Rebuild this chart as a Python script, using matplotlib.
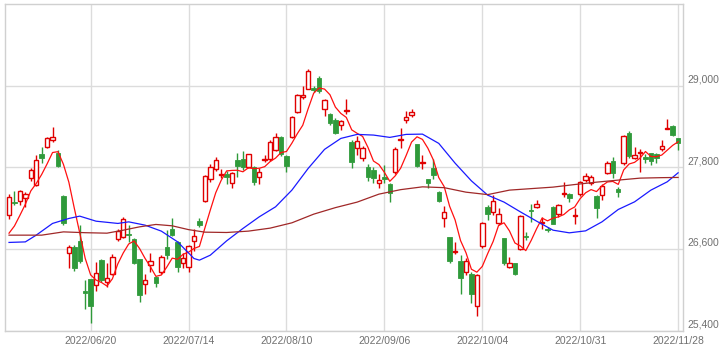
import numpy as np
import pandas as pd
import matplotlib.pyplot as plt
from matplotlib.patches import Rectangle
from matplotlib.transforms import blended_transform_factory

# DATA ########################################################################

holidays = ['2022-07-18', '2022-08-11', '2022-09-19', '2022-09-23',
            '2022-10-10', '2022-11-03', '2022-11-23']
dates = pd.bdate_range('2022-05-30', '2022-11-28', freq='C', holidays=holidays)

opens = [27100, 27300, 27306, 27350, 27650, 27546, 27992, 28104, 28198, 28007,
         27380, 26547, 26635, 26718, 25990, 26156, 26068, 26437, 26121, 26231,
         26744, 26782, 26830, 26748, 26454, 26083, 26376, 26195, 26267, 26626,
         26895, 26708, 26405, 26337, 26728, 27013, 27306, 27625, 27772, 27690,
         27698, 27575, 27909, 27919, 27810, 27810, 27663, 27910, 27919, 28056,
         28242, 27967, 28251, 28618, 28830, 28956, 28962, 29109, 28653, 28584,
         28496, 28418, 28630, 28168, 28089, 27933, 27806, 27757, 27566, 27659,
         27552, 27728, 28200, 28492, 28570, 28139, 27860, 27625, 27786, 27443,
         27056, 26773, 26560, 26425, 26267, 26234, 25768, 26651, 27214, 27140,
         26979, 26763, 26341, 26391, 26597, 26790, 27170, 27223, 26979, 26900,
         27223, 27111, 27405, 27409, 27095, 27405, 27610, 27571, 27380, 27390,
         27713, 27894, 27480, 27860, 28301, 27942, 28020, 27960, 28007, 27997,
         28066, 28370, 28408, 28227]
highs = [27410, 27458, 27470, 27440, 27790, 27982, 28095, 28250, 28389, 28050,
         27400, 26660, 26660, 26954, 26150, 26170, 26420, 26460, 26400, 26530,
         26900, 27070, 26950, 26760, 26460, 26230, 26540, 26200, 26520, 26880,
         27060, 26720, 26550, 26660, 26900, 27060, 27690, 27850, 27960, 27780,
         27750, 27730, 28020, 28040, 28000, 27820, 27790, 27990, 28200, 28300,
         28260, 27990, 28560, 28880, 28990, 29240, 29000, 29150, 28810, 28600,
         28520, 28500, 28800, 28200, 28260, 28110, 27850, 27800, 27700, 27840,
         27570, 28100, 28380, 28630, 28660, 28140, 27980, 27630, 27920, 27460,
         27230, 26780, 26700, 26510, 26470, 26260, 26230, 27000, 27250, 27400,
         27200, 26770, 26480, 26400, 27100, 26850, 27260, 27330, 27080, 26920,
         27230, 27260, 27580, 27420, 27210, 27600, 27720, 27690, 27390, 27560,
         27900, 27950, 27510, 28280, 28330, 28100, 28066, 28000, 28020, 28010,
         28200, 28506, 28420, 28240]
lows = [27050, 27245, 27250, 27222, 27600, 27530, 27860, 28080, 28170, 27800,
        26960, 26320, 26280, 26400, 25720, 25520, 25990, 26120, 26047, 26220,
        26720, 26760, 26700, 26380, 25830, 25950, 26270, 26040, 26240, 26450,
        26800, 26268, 26330, 26270, 26570, 26930, 27290, 27580, 27750, 27650,
        27560, 27500, 27663, 27760, 27790, 27541, 27560, 27880, 27900, 28040,
        27970, 27728, 28240, 28600, 28800, 28950, 28910, 28900, 28550, 28420,
        28290, 28350, 28590, 27786, 27982, 27900, 27600, 27570, 27500, 27566,
        27290, 27700, 28080, 28447, 28540, 27800, 27776, 27500, 27625, 27300,
        26928, 26400, 26523, 25936, 26219, 25810, 25620, 26620, 27027, 27100,
        26950, 26370, 26320, 26220, 26590, 26730, 27000, 27200, 26900, 26850,
        26970, 27080, 27370, 27300, 26970, 27380, 27580, 27540, 27060, 27330,
        27700, 27650, 27370, 27840, 27940, 27920, 27737, 27860, 27840, 27870,
        28040, 28360, 28260, 28050]
closes = [27369, 27279, 27457, 27413, 27761, 27915, 27943, 28234, 28246, 27824,
          26987, 26629, 26326, 26431, 25963, 25771, 26246, 26149, 26171, 26491,
          26871, 27049, 26804, 26393, 25935, 26153, 26423, 26107, 26490, 26517,
          26812, 26336, 26478, 26643, 26788, 26961, 27680, 27803, 27914, 27699,
          27655, 27715, 27815, 27801, 27993, 27594, 27741, 27932, 28175, 28249,
          27999, 27819, 28546, 28871, 28868, 29222, 28942, 28930, 28794, 28452,
          28313, 28479, 28641, 27878, 28195, 28091, 27661, 27650, 27619, 27626,
          27430, 28065, 28214, 28542, 28614, 27818, 27875, 27567, 27688, 27313,
          27153, 26431, 26571, 26173, 26422, 25937, 26215, 26992, 27120, 27311,
          27116, 26401, 26396, 26237, 27090, 26775, 27156, 27257, 27006, 26890,
          26974, 27250, 27431, 27345, 27105, 27587, 27678, 27663, 27199, 27527,
          27872, 27716, 27446, 28263, 27963, 27990, 28028, 27930, 27899, 27944,
          28115, 28383, 28283, 28162]

# closes of the four sessions before the window (for the 5-day average)
prior_closes = [26748, 26677, 26604, 26781]

# 25-day and 75-day averages at these sessions
ma25_days = [0, 3, 5, 8, 11, 13, 16, 20, 22, 25, 28, 31, 34, 35, 37, 40, 43, 46,
             49, 52, 55, 58, 61, 64, 67, 70, 73, 76, 79, 82, 85, 88, 91, 94, 97,
             100, 103, 106, 109, 112, 115, 118, 121, 123]
ma25_vals = [26700, 26708, 26807, 26979, 27052, 27086, 27012, 26979, 27002, 26954,
             26866, 26708, 26464, 26440, 26513, 26723, 26905, 27076, 27223, 27468,
             27787, 28066, 28227, 28286, 28276, 28242, 28286, 28290, 28154, 27864,
             27604, 27394, 27292, 27149, 27012, 26880, 26841, 26870, 27002, 27184,
             27296, 27468, 27590, 27722]
ma75_days = [0, 6, 10, 14, 18, 21, 24, 27, 30, 33, 36, 40, 44, 48, 52, 56, 60, 64,
             68, 72, 76, 80, 84, 88, 92, 96, 100, 104, 108, 112, 116, 120, 123]
ma75_vals = [26807, 26807, 26855, 26843, 26836, 26880, 26929, 26964, 26944, 26888,
             26851, 26846, 26866, 26910, 26988, 27115, 27211, 27292, 27409, 27475,
             27516, 27504, 27438, 27402, 27468, 27490, 27512, 27550, 27585, 27615,
             27644, 27651, 27654]

tick_dates = ['2022/06/20', '2022/07/14', '2022/08/10', '2022/09/06',
              '2022/10/04', '2022/10/31', '2022/11/28']
y_ticks = [25400, 26600, 27800, 29000]

# PLOT ########################################################################

plt.rcParams['font.family'] = ['Liberation Sans', 'DejaVu Sans']

fig = plt.figure(figsize=(7.21, 3.51), dpi=100)
ax = fig.add_axes([5 / 721, 1 - 331 / 351, 678 / 721, 327 / 351])

up_col = '#e00000'
down_col = '#2f9a3a'
w = 0.82
min_h = 12

x = np.arange(len(closes))
for i in x:
    o, h, l, c = opens[i], highs[i], lows[i], closes[i]
    lo, hi = min(o, c), max(o, c)
    if hi - lo < min_h:
        mid = (hi + lo) / 2
        lo, hi = mid - min_h / 2, mid + min_h / 2
    if c >= o:
        ax.add_patch(Rectangle((i - w / 2, lo), w, hi - lo, facecolor='white',
                               edgecolor=up_col, linewidth=1.0, zorder=3))
        col = up_col
    else:
        ax.add_patch(Rectangle((i - w / 2, lo), w, hi - lo, facecolor=down_col,
                               edgecolor=down_col, linewidth=0.6, zorder=3))
        col = down_col
    ax.vlines(i, hi, h, color=col, linewidth=1.0, zorder=2)
    ax.vlines(i, l, lo, color=col, linewidth=1.0, zorder=2)

# moving averages
ext = np.array(prior_closes + closes, dtype=float)
ma5 = np.convolve(ext, np.ones(5) / 5, mode='valid')
ax.plot(x, ma5, color='#ff1010', linewidth=0.9, zorder=4)
ax.plot(ma25_days, ma25_vals, color='#1a1aff', linewidth=0.9, zorder=4)
ax.plot(ma75_days, ma75_vals, color='#a02828', linewidth=0.9, zorder=4)

# axes, grid, labels
tick_idx = [dates.get_loc(pd.Timestamp(d.replace('/', '-'))) for d in tick_dates]
ax.set_xlim(-0.74, len(closes) - 1 + 0.9)
ax.set_ylim(25400, 30200)
ax.set_xticks(tick_idx)
ax.set_xticklabels(tick_dates, fontsize=7.5, color='#707070')
ax.set_yticks(y_ticks)
ax.set_yticklabels([])
ax.tick_params(axis='both', length=0, pad=3.5)
ax.grid(True, color='#dcdcdc', linewidth=1.0, zorder=0)
ax.set_axisbelow(True)
for s in ax.spines.values():
    s.set_color('#d0d0d0')
    s.set_linewidth(1.0)

tr = blended_transform_factory(ax.transAxes, ax.transData)
for v in y_ticks:
    ax.text(1.007, v + 20, f'{v:,}', transform=tr, ha='left', va='bottom',
            fontsize=7.5, color='#707070')

plt.savefig('out.png', dpi=100)
